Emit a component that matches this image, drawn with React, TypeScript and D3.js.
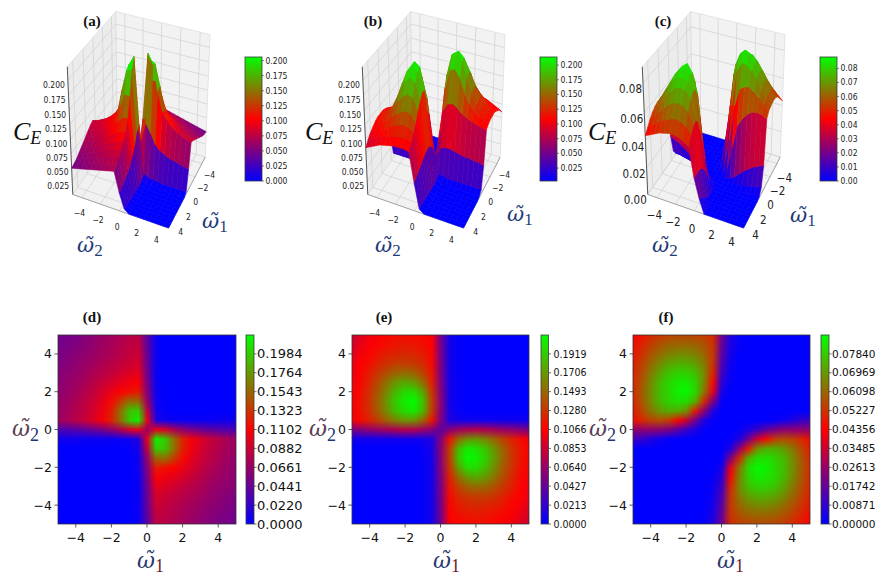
import * as React from 'react';
import * as d3 from 'd3';

// grid nodes for both frequency axes
const omegaNodes = [-5, -4.5, -4, -3.5, -3, -2.5, -2, -1.5, -1, -0.5, 0, 0.5, 1, 1.5, 2, 2.5, 3, 3.5, 4, 4.5, 5];
const omegaTicks = [-4, -2, 0, 2, 4];

// C_E, in % of the colour-bar top of panels (d), (e), (f).
// rows: w2 = 5 -> -5 (top to bottom), columns: w1 = -5 -> 5
const gridD = [
  [22, 23, 24, 26, 28, 30, 32, 34, 36, 37, 18, 2, 0, 0, 0, 0, 0, 0, 0, 0, 0],
  [23, 24, 25, 27, 29, 31, 33, 35, 37, 38, 19, 2, 0, 0, 0, 0, 0, 0, 0, 0, 0],
  [24, 25, 27, 28, 30, 32, 34, 36, 38, 40, 20, 2, 0, 0, 0, 0, 0, 0, 0, 0, 0],
  [25, 26, 28, 30, 32, 34, 36, 38, 40, 42, 21, 2, 0, 0, 0, 0, 0, 0, 0, 0, 0],
  [26, 28, 29, 31, 34, 36, 38, 41, 43, 45, 22, 2, 0, 0, 0, 0, 0, 0, 0, 0, 0],
  [27, 29, 31, 33, 36, 39, 42, 45, 47, 49, 24, 2, 0, 0, 0, 0, 0, 0, 0, 0, 0],
  [28, 30, 32, 35, 38, 42, 46, 50, 53, 55, 26, 3, 0, 0, 0, 0, 0, 0, 0, 0, 0],
  [29, 31, 34, 37, 40, 45, 52, 62, 72, 70, 30, 3, 0, 0, 0, 0, 0, 0, 0, 0, 0],
  [30, 32, 35, 38, 42, 47, 56, 72, 88, 90, 38, 4, 1, 0, 0, 0, 0, 0, 0, 0, 0],
  [31, 33, 36, 39, 43, 48, 57, 72, 90, 97, 45, 6, 3, 2, 2, 2, 2, 2, 3, 3, 3],
  [15, 16, 17, 19, 21, 24, 28, 34, 42, 45, 30, 45, 42, 34, 28, 24, 21, 19, 17, 16, 15],
  [3, 3, 3, 2, 2, 2, 2, 2, 3, 6, 45, 97, 90, 72, 57, 48, 43, 39, 36, 33, 31],
  [0, 0, 0, 0, 0, 0, 0, 0, 1, 4, 38, 90, 88, 72, 56, 47, 42, 38, 35, 32, 30],
  [0, 0, 0, 0, 0, 0, 0, 0, 0, 3, 30, 70, 72, 62, 52, 45, 40, 37, 34, 31, 29],
  [0, 0, 0, 0, 0, 0, 0, 0, 0, 3, 26, 55, 53, 50, 46, 42, 38, 35, 32, 30, 28],
  [0, 0, 0, 0, 0, 0, 0, 0, 0, 2, 24, 49, 47, 45, 42, 39, 36, 33, 31, 29, 27],
  [0, 0, 0, 0, 0, 0, 0, 0, 0, 2, 22, 45, 43, 41, 38, 36, 34, 31, 29, 28, 26],
  [0, 0, 0, 0, 0, 0, 0, 0, 0, 2, 21, 42, 40, 38, 36, 34, 32, 30, 28, 26, 25],
  [0, 0, 0, 0, 0, 0, 0, 0, 0, 2, 20, 40, 38, 36, 34, 32, 30, 28, 27, 25, 24],
  [0, 0, 0, 0, 0, 0, 0, 0, 0, 2, 19, 38, 37, 35, 33, 31, 29, 27, 25, 24, 23],
  [0, 0, 0, 0, 0, 0, 0, 0, 0, 2, 18, 37, 36, 34, 32, 30, 28, 26, 24, 23, 22],
];

const gridE = [
  [40, 44, 47, 49, 51, 52, 52, 52, 51, 49, 22, 4, 1, 0, 0, 0, 0, 0, 0, 0, 0],
  [42, 46, 49, 51, 53, 54, 55, 54, 53, 50, 23, 4, 1, 0, 0, 0, 0, 0, 0, 0, 0],
  [44, 48, 51, 54, 56, 57, 58, 57, 55, 51, 23, 4, 1, 0, 0, 0, 0, 0, 0, 0, 0],
  [46, 50, 53, 57, 60, 62, 62, 61, 58, 52, 24, 4, 1, 0, 0, 0, 0, 0, 0, 0, 0],
  [47, 51, 56, 61, 66, 70, 71, 69, 63, 54, 24, 4, 1, 0, 0, 0, 0, 0, 0, 0, 0],
  [48, 52, 58, 65, 73, 80, 83, 80, 71, 56, 25, 4, 1, 0, 0, 0, 0, 0, 0, 0, 0],
  [49, 53, 60, 68, 78, 87, 93, 93, 82, 60, 26, 4, 1, 0, 0, 0, 0, 0, 0, 0, 0],
  [49, 54, 61, 70, 81, 91, 97, 99, 88, 62, 27, 4, 1, 0, 0, 0, 0, 0, 0, 0, 0],
  [49, 54, 60, 69, 79, 88, 94, 96, 86, 61, 27, 5, 1, 0, 0, 0, 0, 0, 0, 0, 0],
  [48, 52, 57, 63, 70, 76, 80, 79, 70, 54, 25, 6, 4, 3, 3, 3, 3, 3, 3, 3, 3],
  [24, 26, 28, 30, 32, 34, 35, 34, 31, 26, 18, 26, 31, 34, 35, 34, 32, 30, 28, 26, 24],
  [3, 3, 3, 3, 3, 3, 3, 3, 4, 6, 25, 54, 70, 79, 80, 76, 70, 63, 57, 52, 48],
  [0, 0, 0, 0, 0, 0, 0, 0, 1, 5, 27, 61, 86, 96, 94, 88, 79, 69, 60, 54, 49],
  [0, 0, 0, 0, 0, 0, 0, 0, 1, 4, 27, 62, 88, 99, 97, 91, 81, 70, 61, 54, 49],
  [0, 0, 0, 0, 0, 0, 0, 0, 1, 4, 26, 60, 82, 93, 93, 87, 78, 68, 60, 53, 49],
  [0, 0, 0, 0, 0, 0, 0, 0, 1, 4, 25, 56, 71, 80, 83, 80, 73, 65, 58, 52, 48],
  [0, 0, 0, 0, 0, 0, 0, 0, 1, 4, 24, 54, 63, 69, 71, 70, 66, 61, 56, 51, 47],
  [0, 0, 0, 0, 0, 0, 0, 0, 1, 4, 24, 52, 58, 61, 62, 62, 60, 57, 53, 50, 46],
  [0, 0, 0, 0, 0, 0, 0, 0, 1, 4, 23, 51, 55, 57, 58, 57, 56, 54, 51, 48, 44],
  [0, 0, 0, 0, 0, 0, 0, 0, 1, 4, 23, 50, 53, 54, 55, 54, 53, 51, 49, 46, 42],
  [0, 0, 0, 0, 0, 0, 0, 0, 1, 4, 22, 49, 51, 52, 52, 52, 51, 49, 47, 44, 40],
];

const gridF = [
  [50, 54, 58, 61, 63, 64, 64, 63, 62, 58, 22, 6, 1, 0, 0, 0, 0, 0, 0, 0, 0],
  [52, 57, 62, 66, 69, 70, 70, 69, 66, 60, 20, 5, 1, 0, 0, 0, 0, 0, 0, 0, 0],
  [54, 60, 66, 71, 75, 77, 77, 75, 70, 61, 18, 4, 0, 0, 0, 0, 0, 0, 0, 0, 0],
  [56, 63, 70, 77, 82, 84, 84, 81, 74, 60, 15, 3, 0, 0, 0, 0, 0, 0, 0, 0, 0],
  [57, 65, 74, 82, 88, 91, 91, 87, 77, 57, 12, 2, 0, 0, 0, 0, 0, 0, 0, 0, 0],
  [58, 67, 77, 86, 92, 95, 96, 91, 76, 52, 8, 1, 0, 0, 0, 0, 0, 0, 0, 0, 0],
  [58, 68, 78, 87, 92, 97, 99, 92, 73, 45, 4, 0, 0, 0, 0, 0, 0, 0, 0, 0, 0],
  [57, 67, 77, 86, 91, 94, 93, 84, 58, 25, 1, 0, 0, 0, 0, 0, 0, 0, 0, 0, 0],
  [55, 64, 73, 80, 84, 84, 78, 55, 28, 6, 0, 0, 0, 0, 0, 0, 0, 0, 0, 0, 0],
  [52, 58, 63, 65, 62, 52, 40, 22, 6, 1, 0, 0, 0, 0, 0, 0, 1, 3, 6, 10, 12],
  [28, 28, 28, 27, 24, 18, 11, 5, 1, 0, 0, 0, 1, 5, 11, 18, 24, 27, 28, 28, 28],
  [12, 10, 6, 3, 1, 0, 0, 0, 0, 0, 0, 1, 6, 22, 40, 52, 62, 65, 63, 58, 52],
  [0, 0, 0, 0, 0, 0, 0, 0, 0, 0, 0, 6, 28, 55, 78, 84, 84, 80, 73, 64, 55],
  [0, 0, 0, 0, 0, 0, 0, 0, 0, 0, 1, 25, 58, 84, 93, 94, 91, 86, 77, 67, 57],
  [0, 0, 0, 0, 0, 0, 0, 0, 0, 0, 4, 45, 73, 92, 99, 97, 92, 87, 78, 68, 58],
  [0, 0, 0, 0, 0, 0, 0, 0, 0, 1, 8, 52, 76, 91, 96, 95, 92, 86, 77, 67, 58],
  [0, 0, 0, 0, 0, 0, 0, 0, 0, 2, 12, 57, 77, 87, 91, 91, 88, 82, 74, 65, 57],
  [0, 0, 0, 0, 0, 0, 0, 0, 0, 3, 15, 60, 74, 81, 84, 84, 82, 77, 70, 63, 56],
  [0, 0, 0, 0, 0, 0, 0, 0, 0, 4, 18, 61, 70, 75, 77, 77, 75, 71, 66, 60, 54],
  [0, 0, 0, 0, 0, 0, 0, 0, 1, 5, 20, 60, 66, 69, 70, 70, 69, 66, 62, 57, 52],
  [0, 0, 0, 0, 0, 0, 0, 0, 1, 6, 22, 58, 62, 63, 64, 64, 63, 61, 58, 54, 50],
];

// colour-bar tops of the flat maps and their tick values
const heatTopD = 0.2204;
const heatTopE = 0.2132;
const heatTopF = 0.0871;
const heatTicksD = [0, 0.022, 0.0441, 0.0661, 0.0882, 0.1102, 0.1323, 0.1543, 0.1764, 0.1984];
const heatTicksE = [0, 0.0213, 0.0427, 0.064, 0.0853, 0.1066, 0.128, 0.1493, 0.1706, 0.1919];
const heatTicksF = [0, 0.00871, 0.01742, 0.02613, 0.03485, 0.04356, 0.05227, 0.06098, 0.06969, 0.0784];

// 3D panels: colour ranges, colour-bar ticks and z ticks
const surfRangeA = [0, 0.206];
const surfRangeB = [0.003, 0.2137];
const surfRangeC = [0, 0.0881];
const cbTicksA = [0, 0.025, 0.05, 0.075, 0.1, 0.125, 0.15, 0.175, 0.2];
const cbTicksB = [0.025, 0.05, 0.075, 0.1, 0.125, 0.15, 0.175, 0.2];
const cbTicksC = [0, 0.01, 0.02, 0.03, 0.04, 0.05, 0.06, 0.07, 0.08];
const zTicksAB = [0.025, 0.05, 0.075, 0.1, 0.125, 0.15, 0.175, 0.2];
const zTicksC = [0, 0.02, 0.04, 0.06, 0.08];

const SANS = 'DejaVu Sans, sans-serif';
const SERIF = 'Liberation Serif, DejaVu Serif, serif';
const MATH = 'DejaVu Serif, serif';
const minus = (s: string) => s.replace('-', '\u2212');

function makeColour(lo: number, hi: number) {
  return d3
    .scaleLinear<string>()
    .domain([lo, (lo + hi) / 2, hi])
    .range(['#0000ff', '#ff0000', '#00ff00'])
    .interpolate(d3.interpolateRgb)
    .clamp(true);
}

const DEG = Math.PI / 180;
const view = { azim: 24 * DEG, elev: 30 * DEG, kx: 52, ky: 69, boxH: 2.09, dist: 14 };

function makeProjector(cx: number, cy: number, zTop: number) {
  const { azim, elev, kx, ky, boxH, dist } = view;
  const e = [Math.cos(elev) * Math.sin(azim), -Math.cos(elev) * Math.cos(azim), Math.sin(elev)];
  const r = [Math.cos(azim), Math.sin(azim), 0];
  const u = [-Math.sin(azim) * Math.sin(elev), Math.cos(azim) * Math.sin(elev), Math.cos(elev)];
  const w2s = d3.scaleLinear().domain([-5, 5]).range([-1, 1]);
  const w1s = d3.scaleLinear().domain([-5, 5]).range([1, -1]);
  const zs = d3.scaleLinear().domain([0, zTop]).range([-boxH / 2, boxH / 2]);
  return (w1: number, w2: number, z: number) => {
    const X = w2s(w2);
    const Y = w1s(w1);
    const Z = zs(z);
    const depth = X * e[0] + Y * e[1] + Z * e[2];
    const s = dist / (dist - depth);
    return {
      x: cx + kx * s * (X * r[0] + Y * r[1]),
      y: cy - ky * s * (X * u[0] + Y * u[1] + Z * u[2]),
      depth,
    };
  };
}

type Pt = { x: number; y: number; depth: number };
const pathOf = (pts: Pt[]) => 'M' + pts.map((q) => `${q.x.toFixed(2)},${q.y.toFixed(2)}`).join('L') + 'Z';

function OmegaLabel({ x, y, sub, size, subSize, drop, colour, subColour }: any) {
  return (
    <text x={x} y={y} fontFamily={MATH} fontSize={size} fill={colour}>
      <tspan fontStyle="italic">{'\u03c9\u0303'}</tspan>
      <tspan fontFamily={SERIF} fontSize={subSize} dy={drop} fill={subColour}>
        {sub}
      </tspan>
    </text>
  );
}

function SurfacePanel({ p }: { p: any }) {
  const pr = makeProjector(p.cx, p.cy, p.zTop);
  const colour = makeColour(p.range[0], p.range[1]);
  const n = omegaNodes.length;
  const w2At = (row: number) => omegaNodes[n - 1 - row];
  const val = (row: number, col: number) => (p.grid[row][col] / 100) * p.gridTop;

  const facets: { d: string; depth: number; fill: string }[] = [];
  for (let i = 0; i < n - 1; i++) {
    for (let j = 0; j < n - 1; j++) {
      const idx = [
        [i, j],
        [i, j + 1],
        [i + 1, j + 1],
        [i + 1, j],
      ];
      const pts = idx.map(([a, b]) => pr(omegaNodes[b], w2At(a), val(a, b)));
      const zMean = d3.mean(idx, ([a, b]) => val(a, b)) as number;
      facets.push({ d: pathOf(pts), depth: d3.mean(pts, (q) => q.depth) as number, fill: colour(zMean) });
    }
  }
  facets.sort((a, b) => a.depth - b.depth);

  const zTop = p.zTop;
  const floor = [pr(5, -5, 0), pr(5, 5, 0), pr(-5, 5, 0), pr(-5, -5, 0)];
  const wallL = [pr(5, -5, 0), pr(-5, -5, 0), pr(-5, -5, zTop), pr(5, -5, zTop)];
  const wallR = [pr(-5, -5, 0), pr(-5, 5, 0), pr(-5, 5, zTop), pr(-5, -5, zTop)];

  const seg = (a: Pt, b: Pt, key: string, stroke = '#d2d2d2', w = 0.75) => (
    <line key={key} x1={a.x} y1={a.y} x2={b.x} y2={b.y} stroke={stroke} strokeWidth={w} />
  );

  const grid: React.ReactNode[] = [];
  omegaTicks.forEach((t) => {
    grid.push(seg(pr(t, -5, 0), pr(t, 5, 0), `f1${t}`));
    grid.push(seg(pr(-5, t, 0), pr(5, t, 0), `f2${t}`));
    grid.push(seg(pr(t, -5, 0), pr(t, -5, zTop), `l1${t}`));
    grid.push(seg(pr(-5, t, 0), pr(-5, t, zTop), `r2${t}`));
  });
  p.zTicks.forEach((z: number) => {
    grid.push(seg(pr(5, -5, z), pr(-5, -5, z), `lz${z}`));
    grid.push(seg(pr(-5, -5, z), pr(-5, 5, z), `rz${z}`));
  });

  const fmtZ = d3.format(p.zFmt);
  const fmtCb = d3.format(p.cbFmt);
  const cbY = d3.scaleLinear().domain(p.range).range([181, 57]);
  const gid = `cbg${p.title.replace(/\W/g, '')}`;
  const tf = p.tickFont;

  return (
    <g>
      <polygon points={floor.map((q) => `${q.x},${q.y}`).join(' ')} fill="#f1f1f1" stroke="#d6d6d6" strokeWidth={0.6} />
      <polygon points={wallL.map((q) => `${q.x},${q.y}`).join(' ')} fill="#ececec" stroke="#d6d6d6" strokeWidth={0.6} />
      <polygon points={wallR.map((q) => `${q.x},${q.y}`).join(' ')} fill="#f2f2f2" stroke="#d6d6d6" strokeWidth={0.6} />
      {grid}
      {seg(pr(5, -5, 0), pr(5, -5, zTop), 'zaxis', '#333', 0.8)}
      {seg(pr(5, -5, 0), pr(5, 5, 0), 'w2axis', '#888', 0.7)}
      {seg(pr(5, 5, 0), pr(-5, 5, 0), 'w1axis', '#888', 0.7)}
      {facets.map((f, k) => (
        <path key={k} d={f.d} fill={f.fill} stroke={f.fill} strokeWidth={0.6} strokeLinejoin="round" />
      ))}
      <g fontFamily={SANS} fontSize={tf} fill="#222" style={{ fontStretch: 'condensed' }}>
        {p.zTicks.map((z: number) => {
          const q = pr(5, -5, z);
          return (
            <text key={`zt${z}`} x={q.x - p.zLabelGap} y={q.y + p.zLabelDrop} textAnchor="end" dy="0.35em">
              {fmtZ(z)}
            </text>
          );
        })}
        {omegaTicks.map((t) => {
          const q = pr(5.5, t, 0);
          return (
            <text key={`w2t${t}`} x={q.x} y={q.y + p.w2Drop} textAnchor="middle" dy="0.35em">
              {minus(String(t))}
            </text>
          );
        })}
        {omegaTicks.map((t) => {
          const q = pr(t, 5.8, 0);
          return (
            <text key={`w1t${t}`} x={q.x} y={q.y + p.w1Drop} textAnchor="middle" dy="0.35em">
              {minus(String(t))}
            </text>
          );
        })}
      </g>
      <text x={p.ceX} y={140} fontFamily={SERIF} fontSize={26} fontStyle="italic" fill="#111">
        C
        <tspan fontSize={18} dy={4}>
          E
        </tspan>
      </text>
      <OmegaLabel x={p.w1X} y={p.w1Y} sub="1" size={21} subSize={17} drop={4} colour="#1f3a78" subColour="#1f3a78" />
      <OmegaLabel x={p.w2X} y={252} sub="2" size={21} subSize={17} drop={4} colour="#1f3a78" subColour="#1f3a78" />
      <text x={p.titleX} y={26} textAnchor="middle" fontFamily={SERIF} fontWeight="bold" fontSize={15} fill="#111">
        {p.title}
      </text>
      <defs>
        <linearGradient id={gid} x1="0" y1="1" x2="0" y2="0">
          <stop offset="0" stopColor={colour(p.range[0])} />
          <stop offset="0.5" stopColor={colour((p.range[0] + p.range[1]) / 2)} />
          <stop offset="1" stopColor={colour(p.range[1])} />
        </linearGradient>
      </defs>
      <rect x={p.cbX} y={57} width={17} height={124} fill={`url(#${gid})`} stroke="#3a3a3a" strokeWidth={0.8} />
      <g fontFamily={SANS} fontSize={8.5} fill="#222" style={{ fontStretch: 'condensed' }}>
        {p.cbTicks.map((v: number) => (
          <g key={`cb${v}`}>
            <line x1={p.cbX + 17} x2={p.cbX + 19} y1={cbY(v)} y2={cbY(v)} stroke="#333" strokeWidth={0.6} />
            <text x={p.cbX + 20.5} y={cbY(v)} dy="0.35em">
              {fmtCb(v)}
            </text>
          </g>
        ))}
      </g>
    </g>
  );
}

function HeatPanel({ p }: { p: any }) {
  const x = d3.scaleLinear().domain([-5, 5]).range([p.left, p.left + p.width]);
  const y = d3.scaleLinear().domain([-5, 5]).range([p.top + p.height, p.top]);
  const colour = makeColour(0, p.cbTop);
  const n = omegaNodes.length;
  const href = React.useMemo(() => {
    const c = document.createElement('canvas');
    c.width = n;
    c.height = n;
    const ctx = c.getContext('2d') as CanvasRenderingContext2D;
    p.grid.forEach((row: number[], i: number) =>
      row.forEach((pct: number, j: number) => {
        ctx.fillStyle = colour((pct / 100) * p.cbTop);
        ctx.fillRect(j, i, 1, 1);
      })
    );
    return c.toDataURL();
  }, [p]);
  const step = (omegaNodes[1] - omegaNodes[0]) / 2;
  const bottom = p.top + p.height;
  const cbY = d3.scaleLinear().domain([0, p.cbTop]).range([bottom, p.top]);
  const fmt = d3.format(p.cbFmt);
  const clipId = `clip${p.title.replace(/\W/g, '')}`;
  const gid = `hg${p.title.replace(/\W/g, '')}`;
  return (
    <g>
      <defs>
        <clipPath id={clipId}>
          <rect x={p.left} y={p.top} width={p.width} height={p.height} />
        </clipPath>
        <linearGradient id={gid} x1="0" y1="1" x2="0" y2="0">
          <stop offset="0" stopColor={colour(0)} />
          <stop offset="0.5" stopColor={colour(p.cbTop / 2)} />
          <stop offset="1" stopColor={colour(p.cbTop)} />
        </linearGradient>
      </defs>
      <image
        href={href}
        x={x(-5 - step)}
        y={y(5 + step)}
        width={x(5 + step) - x(-5 - step)}
        height={y(-5 - step) - y(5 + step)}
        preserveAspectRatio="none"
        clipPath={`url(#${clipId})`}
      />
      <rect x={p.left} y={p.top} width={p.width} height={p.height} fill="none" stroke="#333" strokeWidth={0.8} />
      <g fontFamily={SANS} fontSize={12.5} fill="#111">
        {omegaTicks.map((t) => (
          <g key={`x${t}`}>
            <line x1={x(t)} x2={x(t)} y1={bottom} y2={bottom + 3.5} stroke="#333" strokeWidth={0.8} />
            <text x={x(t)} y={bottom + 17.5} textAnchor="middle">
              {minus(String(t))}
            </text>
          </g>
        ))}
        {omegaTicks.map((t) => (
          <g key={`y${t}`}>
            <line x1={p.left - 3.5} x2={p.left} y1={y(t)} y2={y(t)} stroke="#333" strokeWidth={0.8} />
            <text x={p.left - 6} y={y(t) + 4.5} textAnchor="end">
              {minus(String(t))}
            </text>
          </g>
        ))}
      </g>
      <rect x={p.cbX} y={p.top} width={p.cbW} height={p.height} fill={`url(#${gid})`} stroke="#3a3a3a" strokeWidth={0.8} />
      <g fontFamily={SANS} fontSize={p.cbFont} fill="#111" style={{ fontStretch: p.cbStretch }}>
        {p.ticks.map((v: number) => (
          <g key={`c${v}`}>
            <line x1={p.cbX + p.cbW} x2={p.cbX + p.cbW + 2.5} y1={cbY(v)} y2={cbY(v)} stroke="#333" strokeWidth={0.7} />
            <text x={p.cbX + p.cbW + p.cbGap} y={cbY(v)} dy="0.35em">
              {fmt(v)}
            </text>
          </g>
        ))}
      </g>
      <OmegaLabel x={p.w1X} y={568} sub="1" size={22} subSize={18} drop={4} colour="#2d3a72" subColour="#6e1f2c" />
      <OmegaLabel x={p.w2X} y={436} sub="2" size={22} subSize={18} drop={5} colour="#5a4050" subColour="#253070" />
      <text x={p.titleX} y={322} textAnchor="middle" fontFamily={SERIF} fontWeight="bold" fontSize={15} fill="#111">
        {p.title}
      </text>
    </g>
  );
}

const surfPanels = [
  { title: '(a)', titleX: 92, cx: 141, cy: 115, grid: gridD, gridTop: heatTopD, zTop: 0.222, zTicks: zTicksAB, zFmt: '.3f', range: surfRangeA, cbX: 245, cbTicks: cbTicksA, cbFmt: '.3f', tickFont: 8.5, zLabelGap: 3, zLabelDrop: 4.5, w2Drop: 12, w1Drop: 9, ceX: 13, w1X: 202, w1Y: 228, w2X: 77 },
  { title: '(b)', titleX: 373, cx: 436, cy: 115, grid: gridE, gridTop: heatTopE, zTop: 0.222, zTicks: zTicksAB, zFmt: '.3f', range: surfRangeB, cbX: 540, cbTicks: cbTicksB, cbFmt: '.3f', tickFont: 8.5, zLabelGap: 3, zLabelDrop: 4.5, w2Drop: 12, w1Drop: 9, ceX: 305, w1X: 507, w1Y: 221, w2X: 375 },
  { title: '(c)', titleX: 663, cx: 716, cy: 115, grid: gridF, gridTop: heatTopF, zTop: 0.091, zTicks: zTicksC, zFmt: '.2f', range: surfRangeC, cbX: 820, cbTicks: cbTicksC, cbFmt: '.2f', tickFont: 11.5, zLabelGap: 1, zLabelDrop: 6, w2Drop: 14, w1Drop: 12, ceX: 588, w1X: 790, w1Y: 222, w2X: 652 },
];

const heatPanels = [
  { title: '(d)', titleX: 92, left: 58, top: 335, width: 178, height: 189, grid: gridD, cbTop: heatTopD, ticks: heatTicksD, cbFmt: '.4f', cbX: 246, cbW: 8, cbFont: 13, cbStretch: 'normal', cbGap: 3, w1X: 137, w2X: 12 },
  { title: '(e)', titleX: 384, left: 352, top: 335, width: 177, height: 189, grid: gridE, cbTop: heatTopE, ticks: heatTicksE, cbFmt: '.4f', cbX: 541, cbW: 7.5, cbFont: 10.5, cbStretch: 'condensed', cbGap: 5, w1X: 433, w2X: 309 },
  { title: '(f)', titleX: 666, left: 633, top: 335, width: 177, height: 189, grid: gridF, cbTop: heatTopF, ticks: heatTicksF, cbFmt: '.5f', cbX: 821, cbW: 8, cbFont: 10.5, cbStretch: 'normal', cbGap: 3, w1X: 717, w2X: 589 },
];

export default function App() {
  return (
    <svg width={879} height={577} style={{ position: 'absolute', left: 0, top: 0, display: 'block' }}>
      <rect width={879} height={577} fill="#ffffff" />
      {surfPanels.map((p) => (
        <SurfacePanel key={p.title} p={p} />
      ))}
      {heatPanels.map((p) => (
        <HeatPanel key={p.title} p={p} />
      ))}
    </svg>
  );
}
